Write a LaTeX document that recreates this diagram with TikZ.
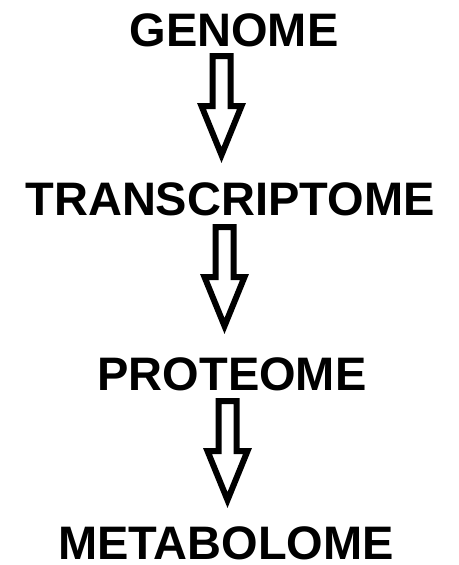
\documentclass[tikz,border=0pt]{standalone}
\usepackage{fontspec}
\setmainfont{Liberation Sans}
\begin{document}
\begin{tikzpicture}[x=1pt,y=-1pt,
  lbl/.style={font=\fontsize{47}{47}\selectfont\bfseries, inner sep=0pt, anchor=base, text depth=0pt},
  fatarrow/.style={draw=black, line width=6pt, line join=miter, fill=white}]
\useasboundingbox (0,0) rectangle (458,565);
\node[lbl] (genome) at (234,46) {GENOME};
\node[lbl] (transcriptome) at (230,215) {TRANSCRIPTOME};
\node[lbl] (proteome) at (232,390) {PROTEOME};
\node[lbl] (metabolome) at (226,559) {METABOLOME};
\coordinate (a1) at (221.5,56);
\coordinate (a2) at (224.5,227);
\coordinate (a3) at (227.5,401);
\foreach \a in {a1,a2,a3}{
  \draw[fatarrow] (\a) ++(-9,0) -- ++(0,50) -- ++(-11,0) -- ++(20,49) -- ++(20,-49) -- ++(-11,0) -- ++(0,-50) -- cycle;
}
\end{tikzpicture}
\end{document}
